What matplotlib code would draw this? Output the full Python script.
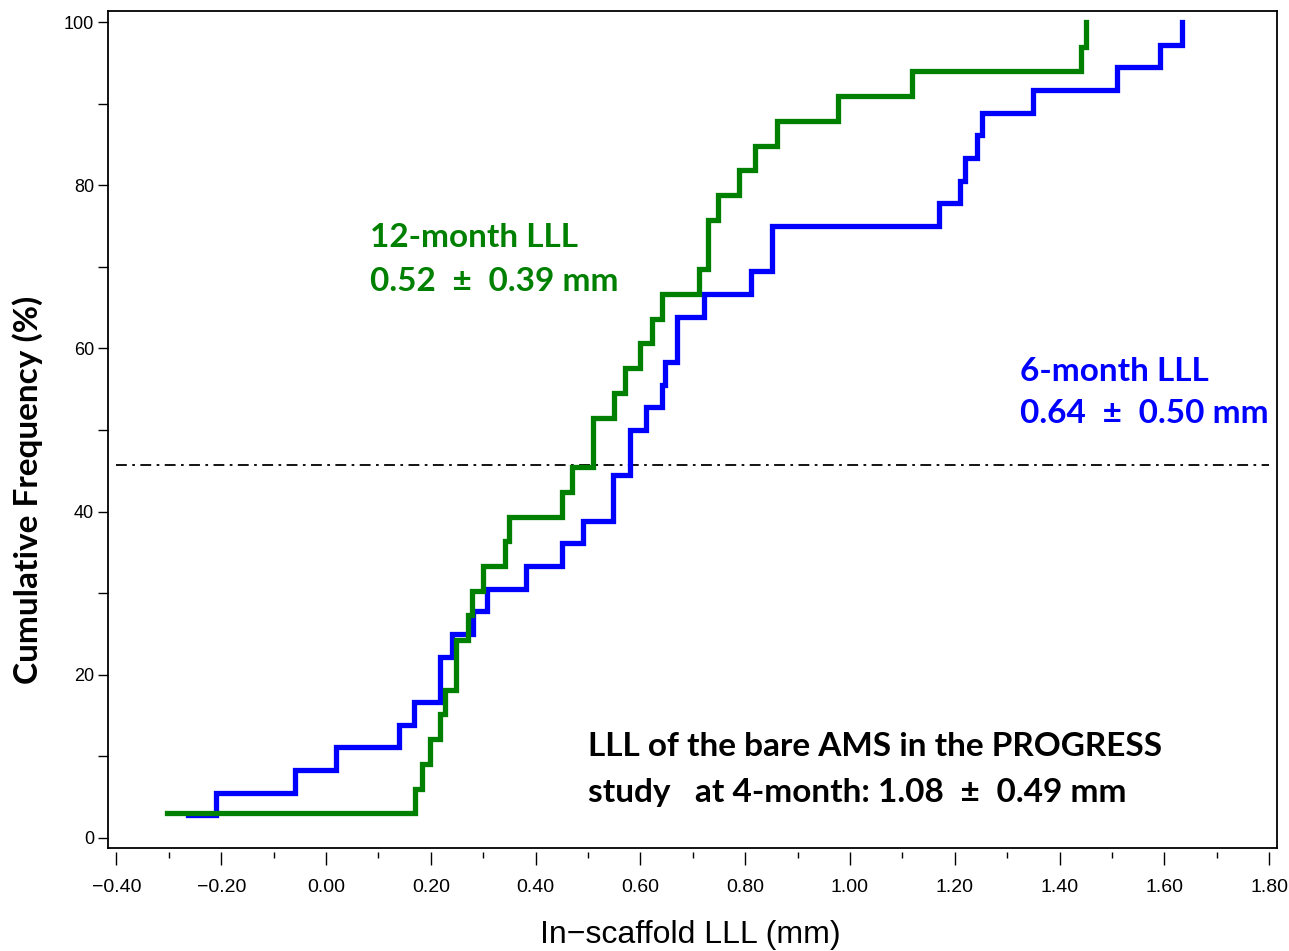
import matplotlib
matplotlib.use("Agg")
import matplotlib.pyplot as plt
import matplotlib.transforms as mtransforms
import numpy as np
from matplotlib.ticker import MultipleLocator, FuncFormatter

# In-scaffold LLL (mm) at each step of the cumulative curves, with cumulative counts
lll_12m = [-0.303, 0.170, 0.183, 0.198, 0.218, 0.227, 0.248, 0.271, 0.279, 0.300,
           0.342, 0.349, 0.450, 0.469, 0.510, 0.550, 0.571, 0.599, 0.622, 0.641,
           0.712, 0.729, 0.748, 0.788, 0.819, 0.861, 0.977, 1.118, 1.441, 1.450]
count_12m = [1, 2, 3, 4, 5, 6, 8, 9, 10, 11, 12, 13, 14, 15, 17, 18, 19, 20, 21, 22,
             23, 25, 26, 27, 28, 29, 30, 31, 32, 33]
n_12m = 33

lll_6m = [-0.263, -0.210, -0.059, 0.019, 0.139, 0.168, 0.218, 0.240, 0.281, 0.307,
          0.382, 0.450, 0.490, 0.548, 0.580, 0.611, 0.641, 0.647, 0.670, 0.721,
          0.811, 0.851, 1.170, 1.210, 1.219, 1.242, 1.252, 1.349, 1.510, 1.592, 1.634]
count_6m = [1, 2, 3, 4, 5, 6, 8, 9, 10, 11, 12, 13, 14, 16, 18, 19, 20, 21, 23, 24,
            25, 27, 28, 29, 30, 31, 32, 33, 34, 35, 36]
n_6m = 36

ref_level = 45.7  # dash-dot reference line (%)

green = "#008000"
blue = "#0000FF"

fig = plt.figure(figsize=(12.89, 9.51), dpi=100)
ax = fig.add_axes([0.0838, 0.1083, 0.9069, 0.8801])

freq_12m = np.array(count_12m) / n_12m * 100
freq_6m = np.array(count_6m) / n_6m * 100

ax.plot(lll_6m, freq_6m, drawstyle="steps-post", color=blue, lw=3.8,
        solid_joinstyle="miter", zorder=3)
ax.plot(lll_12m, freq_12m, drawstyle="steps-post", color=green, lw=3.8,
        solid_joinstyle="miter", zorder=4)

ax.plot([-0.40, 1.80], [ref_level, ref_level], color="black", lw=1.3,
        dashes=(6, 3, 1.5, 3), zorder=2)

ax.set_xlim(-0.416, 1.815)
ax.set_ylim(-1.23, 101.35)

# frame; bottom axis is detached a bit below the frame
for s in ["top", "right", "left"]:
    ax.spines[s].set_linewidth(1.3)
ax.spines["bottom"].set_visible(False)
ax.plot([0, 1], [0, 0], transform=ax.transAxes, color="black", lw=1.3,
        clip_on=False, zorder=5)

ax.xaxis.set_major_locator(MultipleLocator(0.2))
ax.xaxis.set_minor_locator(MultipleLocator(0.1))
ax.xaxis.set_major_formatter(FuncFormatter(lambda v, p: f"{v:.2f}".replace("-", "\u2212")))
ax.yaxis.set_major_locator(MultipleLocator(20))
ax.yaxis.set_minor_locator(MultipleLocator(10))
ax.yaxis.set_major_formatter(FuncFormatter(lambda v, p: f"{v:.0f}"))

tick_font = ["Liberation Sans Narrow", "Liberation Sans", "DejaVu Sans"]
ax.tick_params(axis="x", which="major", length=9.5, width=1, direction="out", pad=13)
ax.tick_params(axis="x", which="minor", length=4.5, width=1, direction="out")
ax.tick_params(axis="y", which="both", length=7, width=1, direction="out", pad=3)
for lab in ax.get_xticklabels():
    lab.set_family(tick_font)
    lab.set_fontsize(14)
for lab in ax.get_yticklabels():
    lab.set_family(["Liberation Sans", "DejaVu Sans"])
    lab.set_fontsize(13)

# shift x ticks down, away from the frame
shift = mtransforms.ScaledTranslation(0, -3 / 72, fig.dpi_scale_trans)
for t in ax.xaxis.get_major_ticks() + ax.xaxis.get_minor_ticks():
    t.tick1line.set_transform(t.tick1line.get_transform() + shift)

ax.set_ylabel("Cumulative Frequency (%)", fontsize=24, fontweight="bold",
              family=["Lato", "DejaVu Sans"])
ax.yaxis.set_label_coords(-0.056, 0.428)
ax.set_xlabel("In\u2212scaffold LLL (mm)", fontsize=23, family=tick_font, va="center")
ax.xaxis.set_label_coords(0.498, -0.104)

txt_font = ["Lato", "DejaVu Sans"]
fs = 24
ax.text(0.084, 73.6, "12-month LLL", color=green, fontsize=fs, fontweight="bold",
        family=txt_font, va="center", ha="left")
ax.text(0.084, 68.2, "0.52\u2002\u00b1\u20020.39 mm", color=green, fontsize=fs,
        fontweight="bold", family=txt_font, va="center", ha="left")
ax.text(1.324, 57.2, "6-month LLL", color=blue, fontsize=fs, fontweight="bold",
        family=txt_font, va="center", ha="left")
ax.text(1.324, 52.0, "0.64\u2002\u00b1\u20020.50 mm", color=blue, fontsize=fs,
        fontweight="bold", family=txt_font, va="center", ha="left")
ax.text(0.500, 11.15, "LLL of the bare AMS in the PROGRESS", color="black", fontsize=fs,
        fontweight="bold", family=txt_font, va="center", ha="left")
ax.text(0.500, 5.6, "study   at 4-month: 1.08\u2002\u00b1\u20020.49 mm", color="black",
        fontsize=fs, fontweight="bold", family=txt_font, va="center", ha="left")

fig.savefig("out.png", dpi=100)
